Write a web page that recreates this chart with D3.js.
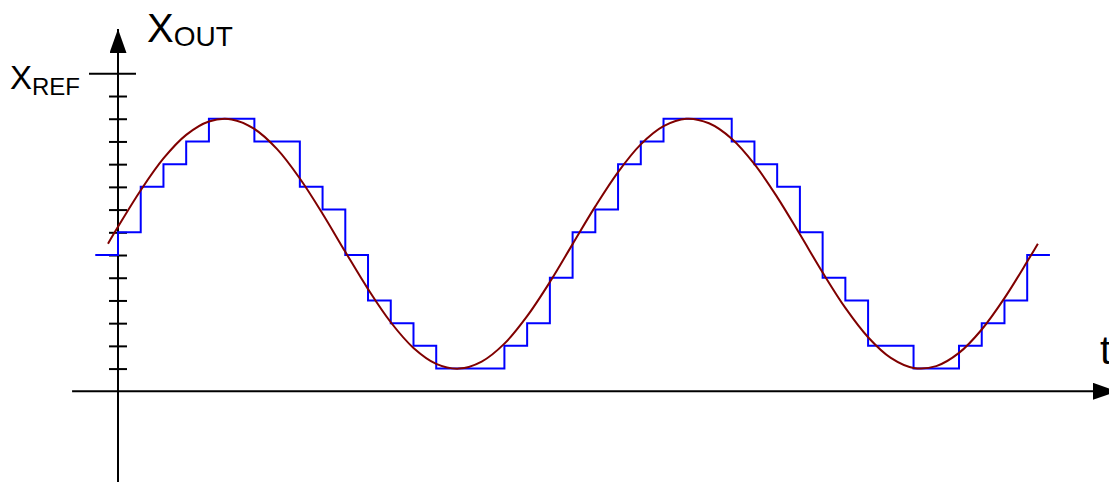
<!DOCTYPE html>
<html>
<head>
<meta charset="utf-8">
<script src="https://cdn.jsdelivr.net/npm/d3@7"></script>
<style>
  body { margin: 0; background: #fff; }
  svg { display: block; }
  text { font-family: "Liberation Sans", Arial, sans-serif; fill: #000; }
  .tick line { stroke: #000; stroke-width: 2; }
</style>
</head>
<body>
<div id="main_view"></div>
<script>
// sample index of each held level (first one starts one sample before the y axis)
var stepStart = -1;
var stepLevels = [6, 7, 9, 10, 11, 12, 12, 11, 11, 9, 8, 6, 4, 3, 2, 1, 1, 1, 2, 3, 5,
                  7, 8, 10, 11, 12, 12, 12, 11, 10, 9, 7, 5, 4, 2, 2, 1, 1, 2, 3, 4, 6];

// analog signal, in sample units / quantisation levels
var sineT = [-0.44, 0, 1, 2, 3, 4, 5, 6, 7, 8, 9, 10, 11, 12, 13, 14, 15, 16, 17, 18, 19, 20,
             21, 22, 23, 24, 25, 26, 27, 28, 29, 30, 31, 32, 33, 34, 35, 36, 37, 38, 39, 40, 40.47];
var sineV = [6.5, 7.24, 8.85, 10.25, 11.29, 11.88, 11.97, 11.55, 10.66, 9.37, 7.82, 6.14, 4.5,
             3.04, 1.91, 1.21, 1.0, 1.31, 2.1, 3.31, 4.81, 6.48, 8.14, 9.65, 10.87, 11.67, 12.0,
             11.8, 11.12, 10.0, 8.55, 6.91, 5.23, 3.67, 2.38, 1.47, 1.03, 1.11, 1.69, 2.72, 4.1,
             5.71, 6.5];

var levelTicks = [1, 2, 3, 4, 5, 6, 7, 8, 9, 10, 11, 12, 13];
var refLevel = 14;

var width = 1109, height = 482;

var xScale = d3.scaleLinear().domain([0, 40]).range([118, 1027.2]);
var yScale = d3.scaleLinear().domain([0, 14]).range([391.3, 73.3]);

var svg = d3.select("#main_view").append("svg")
    .attr("width", width)
    .attr("height", height);

var defs = svg.append("defs");
defs.append("marker")
    .attr("id", "arrow")
    .attr("viewBox", "0 0 24 17")
    .attr("refX", 24).attr("refY", 8.5)
    .attr("markerWidth", 24).attr("markerHeight", 17)
    .attr("markerUnits", "userSpaceOnUse")
    .attr("orient", "auto")
  .append("path")
    .attr("d", "M0,0L24,8.5L0,17Z")
    .attr("fill", "#000");

// level ticks, centred on the vertical axis
svg.append("g")
    .attr("class", "axis")
    .attr("transform", "translate(" + (xScale(0) - 9) + ",0)")
    .call(d3.axisRight(yScale).tickValues(levelTicks).tickSize(18).tickFormat(""))
    .call(function(g) { g.select(".domain").remove(); });

// reference level tick
svg.append("g")
    .attr("class", "axis")
    .attr("transform", "translate(" + (xScale(0) - 29) + ",0)")
    .call(d3.axisRight(yScale).tickValues([refLevel]).tickSize(47).tickFormat(""))
    .call(function(g) { g.select(".domain").remove(); });

// axes with arrows
svg.append("line")
    .attr("x1", xScale(0)).attr("x2", xScale(0))
    .attr("y1", height).attr("y2", 29)
    .attr("stroke", "#000").attr("stroke-width", 2)
    .attr("marker-end", "url(#arrow)");

svg.append("line")
    .attr("x1", xScale(-2.02)).attr("x2", 1117)
    .attr("y1", yScale(0)).attr("y2", yScale(0))
    .attr("stroke", "#000").attr("stroke-width", 2)
    .attr("marker-end", "url(#arrow)");

// quantised output
var steps = stepLevels.map(function(v, i) { return {t: stepStart + i, v: v}; });
steps.push({t: stepStart + stepLevels.length, v: stepLevels[stepLevels.length - 1]});

var stepLine = d3.line()
    .x(function(d) { return xScale(d.t); })
    .y(function(d) { return yScale(d.v); })
    .curve(d3.curveStepAfter);

svg.append("path")
    .datum(steps)
    .attr("fill", "none")
    .attr("stroke", "#0000ff")
    .attr("stroke-width", 2)
    .attr("d", stepLine);

// analog signal
var sine = sineT.map(function(t, i) { return {t: t, v: sineV[i]}; });

var sineLine = d3.line()
    .x(function(d) { return xScale(d.t); })
    .y(function(d) { return yScale(d.v); })
    .curve(d3.curveCatmullRom);

svg.append("path")
    .datum(sine)
    .attr("fill", "none")
    .attr("stroke", "#800000")
    .attr("stroke-width", 2)
    .attr("d", sineLine);

// labels
var yLabel = svg.append("text").attr("x", 147).attr("y", 42);
yLabel.append("tspan").style("font-size", "40px").text("X");
yLabel.append("tspan").style("font-size", "28px").attr("dy", 4).text("OUT");

var refLabel = svg.append("text").attr("x", 10).attr("y", 89);
refLabel.append("tspan").style("font-size", "33px").text("X");
refLabel.append("tspan").style("font-size", "24px").attr("dy", 6).text("REF");

svg.append("text")
    .attr("x", 1100).attr("y", 364)
    .style("font-size", "40px")
    .text("t");
</script>
</body>
</html>
